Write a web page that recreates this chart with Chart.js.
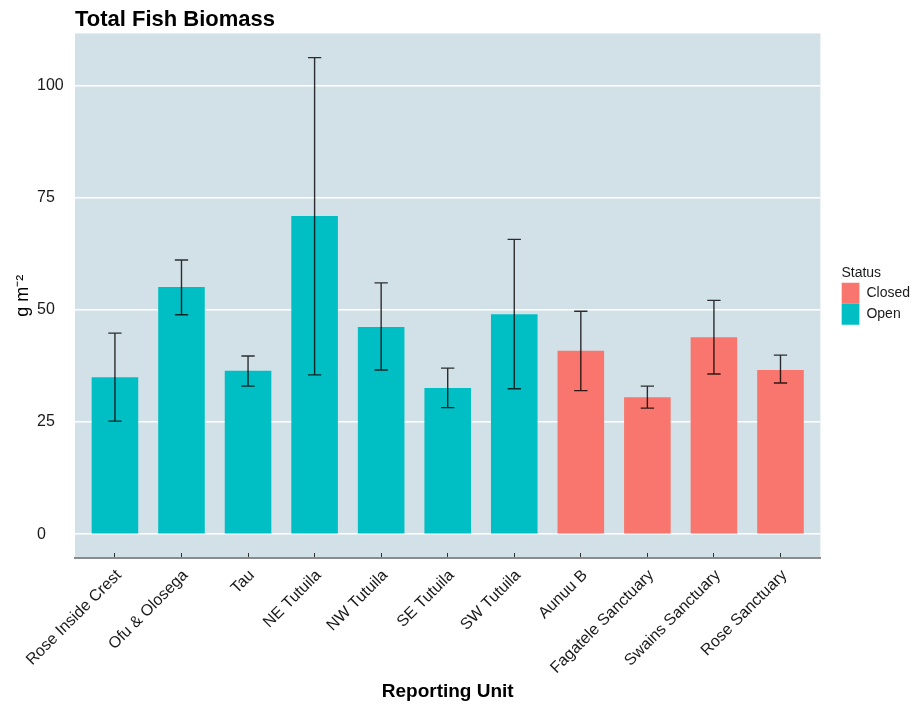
<!DOCTYPE html>
<html>
<head>
<meta charset="utf-8">
<script src="https://cdn.jsdelivr.net/npm/chart.js@4"></script>
<style>
  html, body { margin: 0; padding: 0; background: #fff; }
  #wrap { width: 920px; height: 704px; }
</style>
</head>
<body>
<div id="wrap"><canvas id="biomassChart" width="920" height="704"></canvas></div>
<script>
const categories = ['Rose Inside Crest', 'Ofu & Olosega', 'Tau', 'NE Tutuila', 'NW Tutuila', 'SE Tutuila',
    'SW Tutuila', 'Aunuu B', 'Fagatele Sanctuary', 'Swains Sanctuary', 'Rose Sanctuary'];
const status = ['Open', 'Open', 'Open', 'Open', 'Open', 'Open', 'Open', 'Closed', 'Closed', 'Closed', 'Closed'];
const biomass = [35.0, 55.1, 36.4, 70.9, 46.2, 32.6, 49.0, 40.9, 30.5, 43.9, 36.6];
const errLow = [25.2, 48.9, 33.0, 35.5, 36.6, 28.2, 32.4, 32.0, 28.1, 35.7, 33.7];
const errHigh = [44.8, 61.1, 39.7, 106.2, 56.0, 37.0, 65.7, 49.7, 33.0, 52.1, 39.9];
const yTicks = [0, 25, 50, 75, 100];
const statusLevels = ['Closed', 'Open'];
const statusColors = { Closed: '#F8766D', Open: '#00BFC4' };

const FONT = '"Liberation Sans", Arial, Helvetica, sans-serif';

// panel background behind grid + bars
const panelBg = {
    id: 'panelBg',
    beforeDraw(chart) {
        const a = chart.chartArea;
        const ctx = chart.ctx;
        ctx.save();
        ctx.fillStyle = '#d2e1e8';
        ctx.fillRect(a.left, a.top, a.right - a.left, a.bottom - a.top);
        ctx.restore();
    }
};

// error bars from errLow / errHigh
const errorBars = {
    id: 'errorBars',
    afterDatasetsDraw(chart) {
        const xs = chart.scales.x, ys = chart.scales.y;
        const ctx = chart.ctx;
        ctx.save();
        ctx.strokeStyle = 'rgba(0,0,0,0.8)';
        ctx.lineWidth = 1.4;
        categories.forEach((c, i) => {
            const x = xs.getPixelForValue(i + 1);
            const hw = xs.getPixelForValue(i + 1.1) - x;
            const y1 = ys.getPixelForValue(errLow[i]);
            const y2 = ys.getPixelForValue(errHigh[i]);
            ctx.beginPath();
            ctx.moveTo(x, y1); ctx.lineTo(x, y2);
            ctx.moveTo(x - hw, y1); ctx.lineTo(x + hw, y1);
            ctx.moveTo(x - hw, y2); ctx.lineTo(x + hw, y2);
            ctx.stroke();
        });
        ctx.restore();
    }
};

const datasets = statusLevels.map(s => ({
    label: s,
    data: categories.map((c, i) => ({ x: i + 1, y: biomass[i] })).filter((_, i) => status[i] === s),
    backgroundColor: statusColors[s],
    borderWidth: 0
}));

new Chart(document.getElementById('biomassChart').getContext('2d'), {
    type: 'bar',
    data: { datasets: datasets },
    options: {
        responsive: false,
        animation: false,
        grouped: false,
        barPercentage: 0.7,
        categoryPercentage: 1,
        layout: { padding: { left: 0, right: 0, top: 0, bottom: 0 } },
        plugins: {
            tooltip: { enabled: false },
            title: {
                display: true,
                text: 'Total Fish Biomass',
                align: 'start',
                fullSize: false,
                color: '#000',
                font: { family: FONT, size: 22, weight: 'bold' },
                padding: { top: 7, bottom: 0 }
            },
            legend: {
                position: 'right',
                align: 'start',
                title: {
                    display: true,
                    text: 'Status',
                    position: 'start',
                    color: '#1a1a1a',
                    font: { family: FONT, size: 14 },
                    padding: { top: 266, bottom: 0 }
                },
                labels: {
                    boxWidth: 18,
                    boxHeight: 21,
                    padding: 0,
                    color: '#1a1a1a',
                    font: { family: FONT, size: 14 }
                }
            }
        },
        scales: {
            x: {
                type: 'linear',
                min: 0.4,
                max: 11.6,
                offset: false,
                afterBuildTicks: s => { s.ticks = categories.map((c, i) => ({ value: i + 1 })); },
                afterFit: s => { s.height = 146; },
                grid: { offset: false, drawOnChartArea: false, drawTicks: true, tickLength: -5, tickColor: '#333', tickWidth: 1 },
                border: { display: true, color: '#8a8a8a', width: 2 },
                ticks: {
                    autoSkip: false,
                    minRotation: 45,
                    maxRotation: 45,
                    padding: 13,
                    labelOffset: 4,
                    color: '#1a1a1a',
                    font: { family: FONT, size: 16 },
                    callback: v => categories[v - 1]
                },
                title: {
                    display: true,
                    text: 'Reporting Unit',
                    color: '#000',
                    font: { family: FONT, size: 19, weight: 'bold' },
                    padding: { top: 0, bottom: 1 }
                }
            },
            y: {
                min: -5.3,
                max: 111.6,
                weight: 0,
                afterBuildTicks: s => { s.ticks = yTicks.map(v => ({ value: v })); },
                afterFit: s => { s.width = 38; },
                grid: { color: '#ffffff', lineWidth: 1.6, drawTicks: false },
                border: { display: false },
                ticks: {
                    crossAlign: 'far',
                    padding: 10,
                    color: '#1a1a1a',
                    font: { family: FONT, size: 16 }
                }
            },
            yTitle: {
                type: 'linear',
                position: 'left',
                weight: 1,
                afterFit: s => { s.width = 37; },
                grid: { display: false },
                border: { display: false },
                ticks: { display: false },
                title: {
                    display: true,
                    text: 'g m\u207B\u00B2',
                    color: '#000',
                    font: { family: FONT, size: 18 },
                    padding: { top: 12, bottom: 0 }
                }
            },
            gap: {
                type: 'linear',
                position: 'right',
                afterFit: s => { s.width = 21; },
                grid: { display: false },
                border: { display: false },
                ticks: { display: false }
            }
        }
    },
    plugins: [panelBg, errorBars]
});
</script>
</body>
</html>
